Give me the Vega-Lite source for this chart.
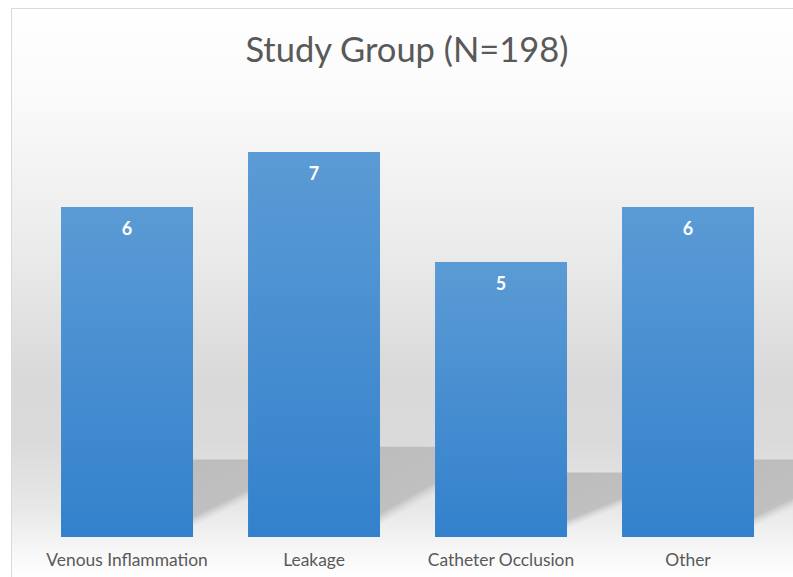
{
  "$schema": "https://vega.github.io/schema/vega-lite/v6.json",
  "width": 782,
  "height": 569,
  "autosize": {"type": "none"},
  "padding": {"left": 11, "top": 8, "right": 0, "bottom": 0},
  "background": "white",
  "view": {
    "stroke": "#d9d9d9",
    "strokeWidth": 1,
    "fill": {
      "gradient": "linear",
      "x1": 0, "y1": 0, "x2": 0, "y2": 1,
      "stops": [
        {"offset": 0, "color": "#ffffff"},
        {"offset": 0.16, "color": "#fafafa"},
        {"offset": 0.42, "color": "#ebebeb"},
        {"offset": 0.65, "color": "#d9d9d9"},
        {"offset": 0.76, "color": "#dadada"},
        {"offset": 0.88, "color": "#e8e8e8"},
        {"offset": 0.95, "color": "#f6f6f6"},
        {"offset": 1, "color": "#ffffff"}
      ]
    }
  },
  "title": {
    "text": "Study Group (N=198)",
    "font": "Lato",
    "fontSize": 34.5,
    "fontWeight": "normal",
    "color": "#595959",
    "anchor": "middle",
    "baseline": "alphabetic",
    "offset": -88,
    "dx": 5
  },
  "data": {
    "values": [
      {"category": "Venous Inflammation", "count": 6},
      {"category": "Leakage", "count": 7},
      {"category": "Catheter Occlusion", "count": 5},
      {"category": "Other", "count": 6}
    ]
  },
  "encoding": {
    "x": {
      "field": "category",
      "type": "nominal",
      "sort": null,
      "scale": {"paddingInner": 0.2941, "paddingOuter": 0.238, "align": 0.562},
      "axis": {
        "title": null,
        "orient": "bottom",
        "offset": -40,
        "domain": false,
        "ticks": false,
        "tickSize": 0,
        "labelAngle": 0,
        "labelPadding": 14,
        "labelFont": "Lato",
        "labelFontSize": 17.4,
        "labelColor": "#595959"
      }
    }
  },
  "layer": [
    {
      "mark": {
        "type": "bar",
        "xOffset": 55,
        "clip": true,
        "fill": {
          "gradient": "linear",
          "x1": 0, "y1": 0, "x2": 0.666, "y2": 0.803,
          "stops": [
            {"offset": 0, "color": "#bababa"},
            {"offset": 0.9, "color": "#c0c0c0"},
            {"offset": 1, "color": "rgba(210,210,210,0)"}
          ]
        }
      },
      "encoding": {
        "y": {
          "field": "count",
          "type": "quantitative",
          "scale": {"domain": [-3.1, 41.01], "nice": false, "zero": false},
          "axis": null
        },
        "y2": {"datum": 0}
      }
    },
    {
      "layer": [
        {
          "mark": {
            "type": "bar",
            "fill": {
              "gradient": "linear",
              "x1": 0, "y1": 0, "x2": 0, "y2": 1,
              "stops": [
                {"offset": 0, "color": "#5b9bd5"},
                {"offset": 1, "color": "#3381cc"}
              ]
            }
          },
          "encoding": {
            "y": {
              "field": "count",
              "type": "quantitative",
              "scale": {"domain": [-0.727, 9.618], "nice": false, "zero": false},
              "axis": null
            },
            "y2": {"datum": 0}
          }
        },
        {
          "mark": {
            "type": "text",
            "dy": 23,
            "baseline": "middle",
            "font": "Lato",
            "fontSize": 18,
            "fontWeight": "bold",
            "color": "#ffffff"
          },
          "encoding": {
            "y": {"field": "count", "type": "quantitative", "axis": null},
            "text": {"field": "count", "type": "quantitative"}
          }
        }
      ]
    }
  ],
  "resolve": {"scale": {"y": "independent"}}
}
